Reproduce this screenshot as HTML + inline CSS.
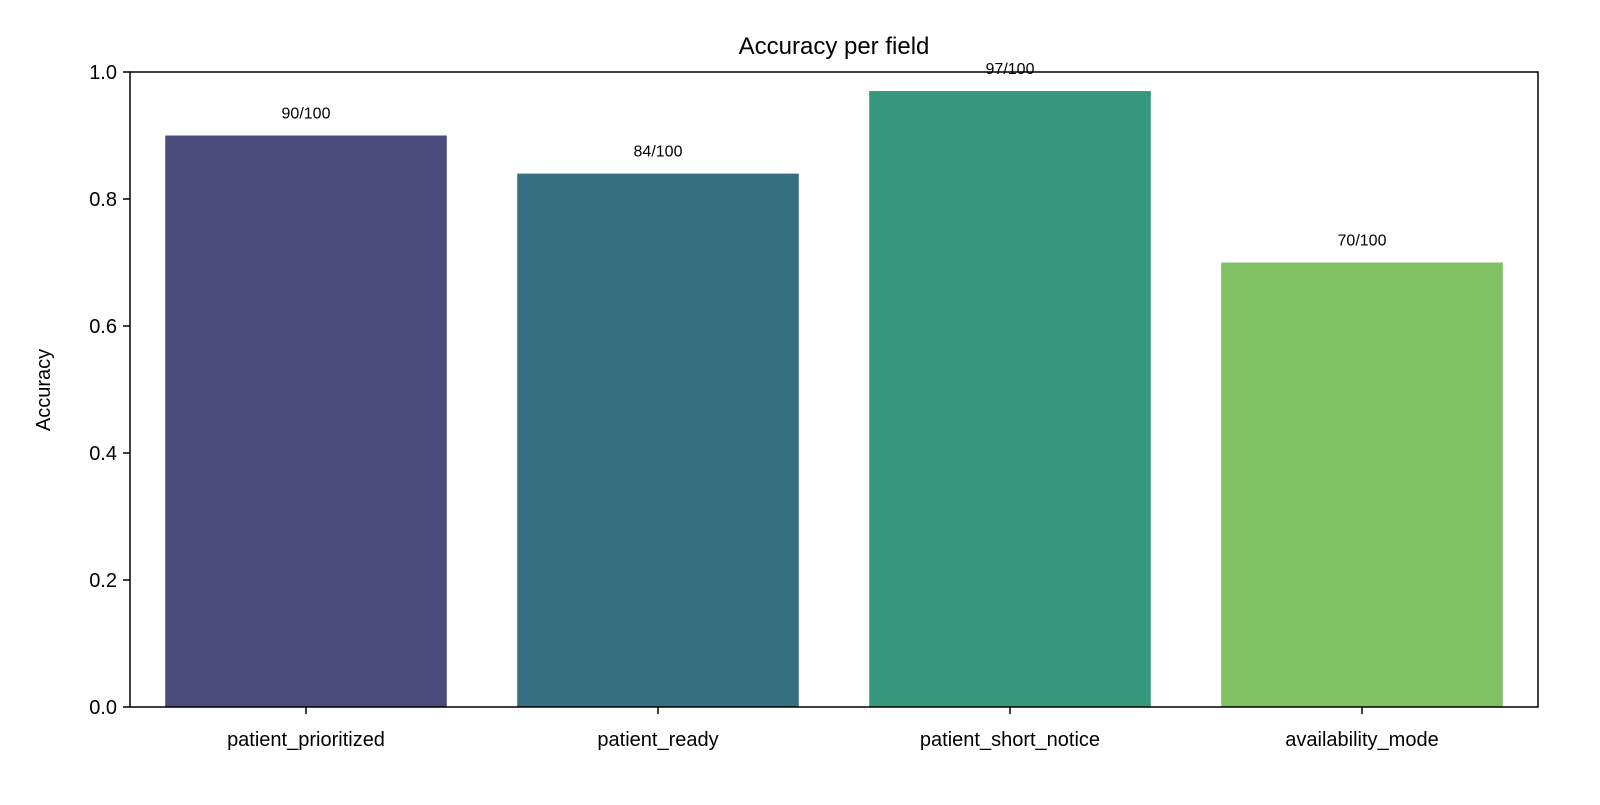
<!DOCTYPE html>
<html><head><meta charset="utf-8"><style>
body{margin:0;background:#fff;}
svg text{font-family:"Liberation Sans","DejaVu Sans",sans-serif;fill:#000;}
</style></head><body>
<svg id="chart" width="1600" height="800" viewBox="0 0 1600 800" xmlns="http://www.w3.org/2000/svg">
<rect width="1600" height="800" fill="#fff"/>
<text x="834" y="54" font-size="24" text-anchor="middle">Accuracy per field</text>
<text transform="translate(50,390) rotate(-90)" font-size="20" text-anchor="middle">Accuracy</text>
<g id="bars"></g><g id="axes"></g>
<rect x="130" y="72" width="1408" height="635" fill="none" stroke="#000" stroke-width="1.5"/>
</svg>
<script>
const categories=["patient_prioritized","patient_ready","patient_short_notice","availability_mode"];
const values=[0.90,0.84,0.97,0.70];
const valueLabels=["90/100","84/100","97/100","70/100"];
const colors=["#4a4c7c","#377181","#35987c","#80c263"];
const yTicks=[0,0.2,0.4,0.6,0.8,1.0];
const X0=130,X1=1538,Y0=707,Y1=72;
const step=(X1-X0)/categories.length;
const xc=i=>X0+step*(i+0.5);
const y=v=>Y0-(Y0-Y1)*v;
const NS="http://www.w3.org/2000/svg";
const bars=document.getElementById('bars'),axes=document.getElementById('axes');
function mk(tag,attrs,parent){const e=document.createElementNS(NS,tag);for(const k in attrs)e.setAttribute(k,attrs[k]);parent.appendChild(e);return e;}
categories.forEach((c,i)=>{
  const w=step*0.8;
  const r=mk('rect',{x:xc(i)-w/2,y:y(values[i]),width:w,height:Y0-y(values[i]),fill:colors[i]},bars);
  
  
  const t=mk('text',{x:xc(i),y:y(values[i])-17,'font-size':16,'text-anchor':'middle'},bars);
  t.textContent=valueLabels[i];
  
  
  const tk=mk('line',{x1:xc(i),x2:xc(i),y1:Y0,y2:Y0+7,stroke:'#000','stroke-width':1.5},axes);
  
  
  const xl=mk('text',{x:xc(i),y:Y0+39,'font-size':20,'text-anchor':'middle'},axes);
  xl.textContent=c;
  
  
});
yTicks.forEach(v=>{
  const tk=mk('line',{x1:X0-7,x2:X0,y1:y(v),y2:y(v),stroke:'#000','stroke-width':1.5},axes);
  
  
  const l=mk('text',{x:X0-13,y:y(v)+7,'font-size':20,'text-anchor':'end'},axes);
  l.textContent=v.toFixed(1);
  
  
});
</script>
</body></html>
